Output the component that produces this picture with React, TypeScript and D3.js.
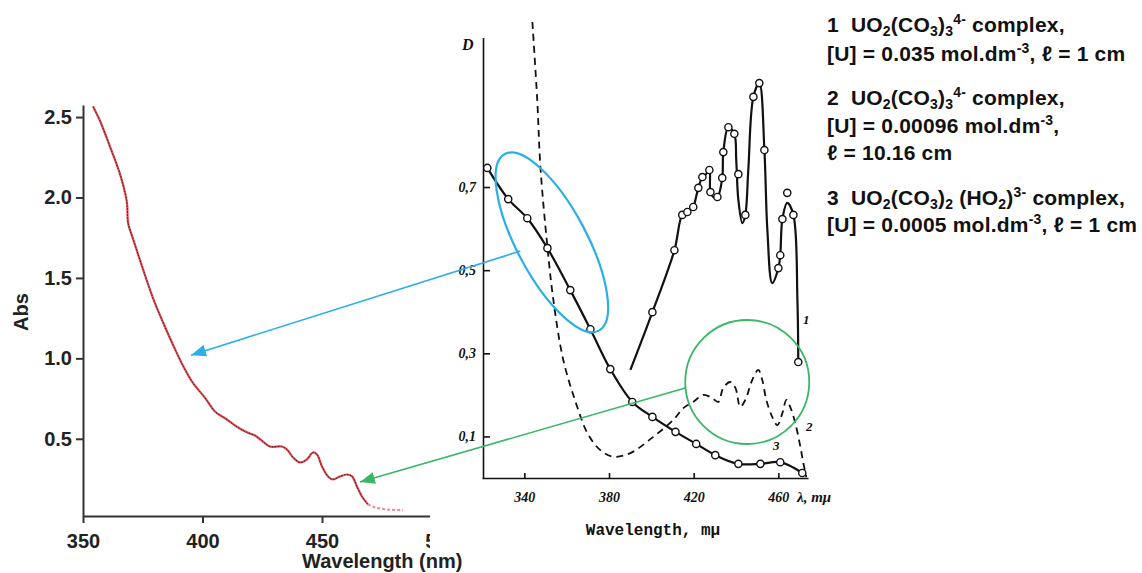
import * as d3 from "d3"
import { useEffect, useRef } from "react"

// left panel: measured absorbance spectrum
const absWavelength = [354.2, 357, 361.2, 365.4, 367.9, 368.5, 368.9, 371, 375.2, 379.4, 383.6, 387.8, 392, 396, 401, 405.2, 410.2, 414.9, 418.6, 422, 425.3, 428.2, 433.2, 435.4, 437.9, 440.8, 443.7, 446.2, 447.9, 450, 452.5, 454.6, 457.5, 460.5, 462.6, 464.6, 466.7, 469.2, 472.2, 477.2, 483.9]
const absValue = [2.566, 2.48, 2.32, 2.15, 2.01, 1.95, 1.84, 1.74, 1.55, 1.37, 1.22, 1.08, 0.95, 0.847, 0.756, 0.67, 0.62, 0.57, 0.54, 0.52, 0.483, 0.452, 0.452, 0.433, 0.384, 0.353, 0.372, 0.415, 0.403, 0.328, 0.266, 0.247, 0.266, 0.278, 0.266, 0.204, 0.141, 0.092, 0.073, 0.061, 0.055]
const absXTicks = [350, 400, 450, 500]
const absYTicks = [0.5, 1.0, 1.5, 2.0, 2.5]

// right panel: literature spectra (D vs wavelength, mμ)
const c1Wavelength = [390.1, 400.5, 410.9, 414.6, 417, 419.8, 420.8, 422.2, 424.1, 425.5, 427.4, 427.9, 429.3, 431.2, 433.5, 434, 436.4, 439.2, 440.1, 441.1, 443, 444.4, 445.8, 448.2, 451, 453.4, 454.8, 457.1, 460, 460.9, 461.9, 464.2, 467.1, 469, 469.4]
const c1D = [0.26, 0.399, 0.548, 0.633, 0.64, 0.652, 0.669, 0.698, 0.724, 0.729, 0.741, 0.688, 0.676, 0.676, 0.722, 0.784, 0.844, 0.828, 0.765, 0.669, 0.613, 0.633, 0.741, 0.917, 0.95, 0.789, 0.597, 0.469, 0.505, 0.536, 0.623, 0.662, 0.633, 0.428, 0.279]
const c1MarkWavelength = [400.5, 410.9, 414.6, 417, 419.8, 422.2, 424.1, 427.4, 427.9, 431.2, 433.5, 434, 436.4, 439.2, 441.1, 444.4, 448.2, 451, 453.4, 460, 460.9, 461.9, 464.2, 467.1, 469.4]
const c1MarkD = [0.399, 0.548, 0.633, 0.64, 0.652, 0.698, 0.724, 0.741, 0.688, 0.676, 0.722, 0.784, 0.844, 0.828, 0.731, 0.633, 0.917, 0.95, 0.789, 0.505, 0.536, 0.623, 0.686, 0.633, 0.279]
const c2Wavelength = [343.8, 346.1, 347.6, 350.9, 353.7, 358.4, 365, 369.8, 375.9, 382, 390.1, 400.9, 410.4, 415.1, 419.8, 424.6, 428.8, 431.6, 434, 437.3, 439.7, 442, 444.4, 447.7, 450.5, 452.4, 454.3, 457.1, 459.5, 461.9, 463.8, 465.6, 468, 470.4, 471.8, 473.2]
const c2D = [1.097, 0.909, 0.748, 0.556, 0.429, 0.284, 0.171, 0.108, 0.067, 0.051, 0.06, 0.099, 0.14, 0.168, 0.183, 0.2, 0.192, 0.183, 0.217, 0.231, 0.217, 0.171, 0.188, 0.236, 0.26, 0.236, 0.188, 0.147, 0.127, 0.156, 0.188, 0.171, 0.132, 0.075, 0.036, 0.002]
const c3Wavelength = [322.5, 332.4, 341.4, 350.9, 361.7, 371.2, 380.6, 391, 400.5, 411.4, 421.2, 430.2, 441.1, 451.5, 460.9, 471.3]
const c3D = [0.746, 0.671, 0.625, 0.553, 0.452, 0.358, 0.262, 0.183, 0.147, 0.111, 0.082, 0.055, 0.034, 0.034, 0.038, 0.012]
const dXTicks = [340, 380, 420, 460]
const dYTicks = [0.1, 0.3, 0.5, 0.7]

// annotations: [wavelength, D] on the right panel -> [wavelength, Abs] on the left
const blueEllipseCenter = [353, 0.567]
const greenCircleCenter = [445.3, 0.231]
const blueArrow = { from: [338.1, 0.546], to: [395.2, 1.02] }
const greenArrow = { from: [416, 0.2165], to: [465.9, 0.231] }

type Seg = [string, "n" | "sub" | "sup"]
const legendLines: Seg[][] = [
    [["1  UO", "n"], ["2", "sub"], ["(CO", "n"], ["3", "sub"], [")", "n"], ["3", "sub"], ["4-", "sup"], [" complex,", "n"]],
    [["[U] = 0.035 mol.dm", "n"], ["-3", "sup"], [", ℓ = 1 cm", "n"]],
    [["2  UO", "n"], ["2", "sub"], ["(CO", "n"], ["3", "sub"], [")", "n"], ["3", "sub"], ["4-", "sup"], [" complex,", "n"]],
    [["[U] = 0.00096 mol.dm", "n"], ["-3", "sup"], [",", "n"]],
    [["ℓ = 10.16 cm", "n"]],
    [["3  UO", "n"], ["2", "sub"], ["(CO", "n"], ["3", "sub"], [")", "n"], ["2", "sub"], [" (HO", "n"], ["2", "sub"], [")", "n"], ["3-", "sup"], [" complex,", "n"]],
    [["[U] = 0.0005 mol.dm", "n"], ["-3", "sup"], [", ℓ = 1 cm", "n"]],
]
const legendBaselines = [32, 61, 105, 133, 160, 205, 232]

export default function App() {
    const ref = useRef<SVGSVGElement | null>(null)

    useEffect(() => {
        const svg = d3.select(ref.current)
        svg.selectAll("*").remove()

        // ---- left chart ----
        const xL = d3.scaleLinear().domain([350, 500]).range([83, 441.5])
        const yL = d3.scaleLinear().domain([0.02, 2.575]).range([516, 105])
        const sans = "'Liberation Sans', Arial, sans-serif"

        const gx = svg.append("g").attr("transform", "translate(0,516)")
            .call(d3.axisBottom(xL).tickValues(absXTicks).tickFormat(d3.format("d")).tickSize(7).tickPadding(11).tickSizeOuter(0))
        const gy = svg.append("g").attr("transform", "translate(83,0)")
            .call(d3.axisLeft(yL).tickValues(absYTicks).tickFormat(d3.format(".1f")).tickSize(7).tickPadding(4).tickSizeOuter(0))
        for (const g of [gx, gy]) {
            g.selectAll("path, line").attr("stroke", "#333").attr("stroke-width", 2)
            g.selectAll("text").attr("fill", "#222").attr("font-family", sans)
                .attr("font-weight", "bold").attr("font-size", 20)
        }

        const pts: [number, number][] = absWavelength.map((w, i) => [w, absValue[i]])
        const lineL = d3.line<[number, number]>()
            .x(d => xL(d[0])).y(d => yL(d[1]))
            .curve(d3.curveCatmullRom.alpha(0.5))
        const cut = absWavelength.indexOf(469.2)
        svg.append("path").attr("d", lineL(pts.slice(0, cut + 1)))
            .attr("fill", "none").attr("stroke", "#e8474f").attr("stroke-width", 2.2)
        svg.append("path").attr("d", lineL(pts.slice(0, cut + 1)))
            .attr("fill", "none").attr("stroke", "#3a2020").attr("stroke-width", 1)
            .attr("stroke-dasharray", "1.5,1.5")
        svg.append("path").attr("d", lineL(pts.slice(cut)))
            .attr("fill", "none").attr("stroke", "#f08a90").attr("stroke-width", 2)
            .attr("stroke-dasharray", "3,2")

        svg.append("text").attr("transform", "translate(28,312) rotate(-90)")
            .attr("text-anchor", "middle").attr("font-family", sans).attr("font-weight", "bold")
            .attr("font-size", 20).attr("fill", "#222").text("Abs")
        svg.append("text").attr("x", 302).attr("y", 568)
            .attr("font-family", sans).attr("font-weight", "bold")
            .attr("font-size", 20).attr("fill", "#222").text("Wavelength (nm)")

        // ---- right (scanned) chart ----
        svg.append("rect").attr("x", 430).attr("y", 0).attr("width", 712).attr("height", 548).attr("fill", "#fff")

        const xR = d3.scaleLinear().domain([320, 474]).range([482, 808])
        const yR = d3.scaleLinear().domain([0, 1.06]).range([478, 37.4])
        const serif = "'Liberation Serif', 'DejaVu Serif', serif"

        const rx = svg.append("g").attr("transform", "translate(0,478)")
            .call(d3.axisBottom(xR).tickValues(dXTicks).tickFormat(d3.format("d")).tickSize(-5).tickPadding(14).tickSizeOuter(0))
        const ry = svg.append("g").attr("transform", "translate(483,0)")
            .call(d3.axisLeft(yR).tickValues(dYTicks).tickFormat(d => String(d).replace(".", ",")).tickSize(-7).tickPadding(7).tickSizeOuter(0))
        for (const g of [rx, ry]) {
            g.selectAll("path, line").attr("stroke", "#111").attr("stroke-width", 1.6)
            g.selectAll("text").attr("fill", "#111").attr("font-family", serif)
                .attr("font-style", "italic").attr("font-weight", "bold").attr("font-size", 14)
        }

        const lineR = d3.line<[number, number]>()
            .x(d => xR(d[0])).y(d => yR(d[1]))
            .curve(d3.curveCatmullRom.alpha(0.5))
        const c1: [number, number][] = c1Wavelength.map((w, i) => [w, c1D[i]])
        const c2: [number, number][] = c2Wavelength.map((w, i) => [w, c2D[i]])
        const c3: [number, number][] = c3Wavelength.map((w, i) => [w, c3D[i]])

        svg.append("path").attr("d", lineR(c2)).attr("fill", "none").attr("stroke", "#111")
            .attr("stroke-width", 1.8).attr("stroke-dasharray", "7,5")
        for (const c of [c1, c3]) {
            svg.append("path").attr("d", lineR(c)).attr("fill", "none").attr("stroke", "#111")
                .attr("stroke-width", 2.2)
        }
        const marks: [number, number][] = [
            ...c1MarkWavelength.map((w, i) => [w, c1MarkD[i]] as [number, number]),
            ...c3,
        ]
        svg.append("g").selectAll("circle").data(marks).join("circle")
            .attr("cx", d => xR(d[0])).attr("cy", d => yR(d[1])).attr("r", 3.6)
            .attr("fill", "#fff").attr("stroke", "#111").attr("stroke-width", 1.4)

        const italic = (x: number, y: number, t: string, size = 14) =>
            svg.append("text").attr("x", x).attr("y", y).attr("font-family", serif)
                .attr("font-style", "italic").attr("font-weight", "bold").attr("font-size", size)
                .attr("fill", "#111").text(t)
        italic(462, 50, "D", 16)
        italic(797, 502, "λ, mμ", 15)
        italic(803, 324, "1", 13)
        italic(806, 431, "2", 13)
        italic(773, 450, "3", 13)
        svg.append("text").attr("x", 653).attr("y", 535).attr("text-anchor", "middle")
            .attr("font-family", "'Liberation Mono', 'DejaVu Sans Mono', monospace")
            .attr("font-weight", "bold").attr("font-size", 16).attr("fill", "#111")
            .text("Wavelength, mμ")

        // ---- legend ----
        legendLines.forEach((line, li) => {
            const t = svg.append("text").attr("x", 827).attr("y", legendBaselines[li])
                .attr("font-family", sans).attr("font-weight", "bold").attr("font-size", 21)
                .attr("letter-spacing", 0.2).attr("fill", "#111").style("white-space", "pre")
            let shift = 0
            for (const [s, kind] of line) {
                const target = kind === "sub" ? 4 : kind === "sup" ? -8 : 0
                t.append("tspan").attr("dy", target - shift)
                    .attr("font-size", kind === "n" ? 21 : 14).text(s)
                shift = target
            }
        })

        // ---- annotations ----
        const defs = svg.append("defs")
        const marker = (id: string, color: string) =>
            defs.append("marker").attr("id", id).attr("markerUnits", "userSpaceOnUse")
                .attr("markerWidth", 16).attr("markerHeight", 12).attr("refX", 15).attr("refY", 6)
                .attr("orient", "auto")
                .append("path").attr("d", "M0,0 L15,6 L0,12 Z").attr("fill", color)
        const blue = "#2bb0e6"
        const green = "#38b865"
        marker("arrowBlue", blue)
        marker("arrowGreen", green)

        svg.append("ellipse")
            .attr("transform", `translate(${xR(blueEllipseCenter[0])},${yR(blueEllipseCenter[1])}) rotate(62)`)
            .attr("rx", 100).attr("ry", 35).attr("fill", "none").attr("stroke", blue).attr("stroke-width", 2.2)
        svg.append("circle")
            .attr("cx", xR(greenCircleCenter[0])).attr("cy", yR(greenCircleCenter[1])).attr("r", 62)
            .attr("fill", "none").attr("stroke", green).attr("stroke-width", 1.8)

        svg.append("line")
            .attr("x1", xR(blueArrow.from[0])).attr("y1", yR(blueArrow.from[1]))
            .attr("x2", xL(blueArrow.to[0])).attr("y2", yL(blueArrow.to[1]))
            .attr("stroke", blue).attr("stroke-width", 1.6).attr("marker-end", "url(#arrowBlue)")
        svg.append("line")
            .attr("x1", xR(greenArrow.from[0])).attr("y1", yR(greenArrow.from[1]))
            .attr("x2", xL(greenArrow.to[0])).attr("y2", yL(greenArrow.to[1]))
            .attr("stroke", green).attr("stroke-width", 1.6).attr("marker-end", "url(#arrowGreen)")
    }, [])

    return (
        <svg ref={ref} width={1142} height={573}
            style={{ position: "absolute", left: 0, top: 0, background: "#fff" }} />
    )
}
